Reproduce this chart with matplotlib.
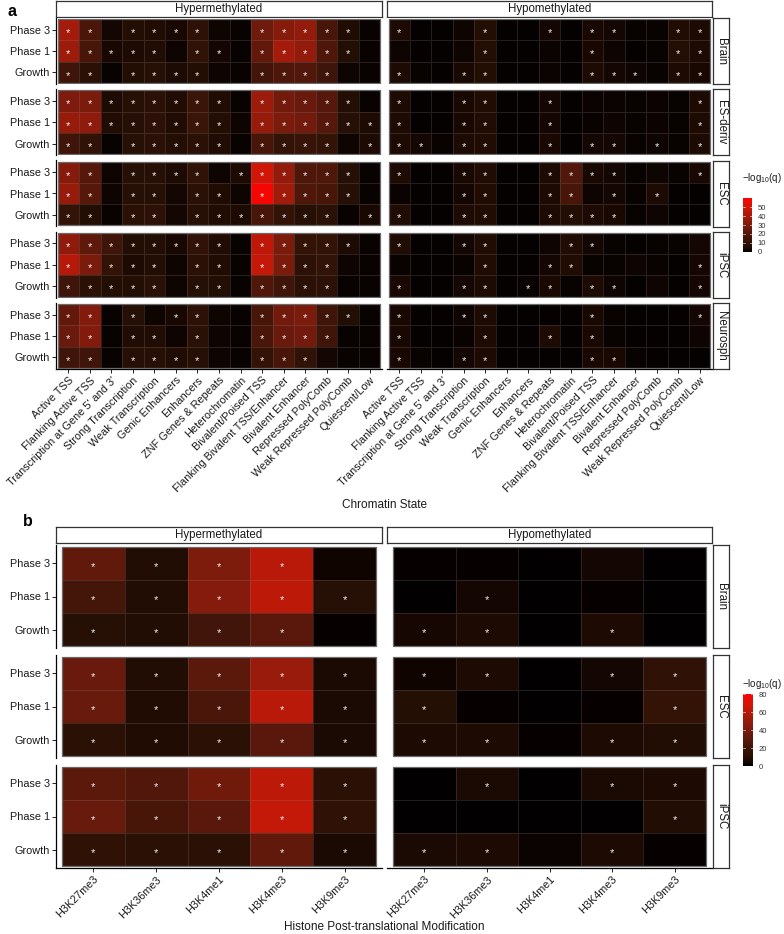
import numpy as np
import matplotlib
matplotlib.use('Agg')
import matplotlib.pyplot as plt
from matplotlib.colors import ListedColormap, Normalize
from matplotlib.patches import Rectangle

plt.rcParams['font.family'] = ['Liberation Sans', 'DejaVu Sans']
plt.rcParams['mathtext.fontset'] = 'custom'
plt.rcParams['mathtext.rm'] = 'Liberation Sans'
plt.rcParams['mathtext.it'] = 'Liberation Sans:italic'

# ---------------- data ----------------
phases = ["Phase 3", "Phase 1", "Growth"]
methyl = ["Hypermethylated", "Hypomethylated"]
tissues_a = ["Brain", "ES-deriv", "ESC", "iPSC", "Neurosph"]
tissues_b = ["Brain", "ESC", "iPSC"]
states = ["Active TSS", "Flanking Active TSS", "Transcription at Gene 5' and 3'",
          "Strong Transcription", "Weak Transcription", "Genic Enhancers", "Enhancers",
          "ZNF Genes & Repeats", "Heterochromatin", "Bivalent/Poised TSS",
          "Flanking Bivalent TSS/Enhancer", "Bivalent Enhancer", "Repressed PolyComb",
          "Weak Repressed PolyComb", "Quiescent/Low"]
histones = ["H3K27me3", "H3K36me3", "H3K4me1", "H3K4me3", "H3K9me3"]

# -log10(q), rows: Phase 3, Phase 1, Growth
hyper_a_brain = [[40, 18, 3, 7, 6, 4, 10, 2, 1, 27, 33, 36, 17, 6, 1],
                 [38, 17, 4, 5, 6, 2, 11, 3, 1, 24, 40, 36, 19, 7, 1],
                 [15, 9, 1, 7, 8, 5, 7, 2, 1, 16, 19, 20, 15, 2, 1]]
hyper_a_esderiv = [[31, 30, 5, 8, 9, 6, 14, 6, 1, 38, 28, 26, 21, 7, 1],
                   [37, 35, 6, 8, 10, 6, 14, 7, 2, 37, 30, 28, 21, 8, 5],
                   [15, 11, 1, 8, 9, 7, 9, 6, 1, 17, 12, 13, 12, 2, 5]]
hyper_a_esc = [[33, 21, 2, 8, 8, 5, 11, 2, 5, 50, 36, 19, 19, 8, 1],
               [37, 21, 2, 8, 8, 3, 9, 6, 2, 58, 39, 19, 17, 8, 1],
               [12, 7, 1, 9, 10, 3, 8, 6, 5, 17, 12, 8, 9, 1, 4]]
hyper_a_ipsc = [[35, 23, 15, 7, 7, 4, 11, 6, 1, 46, 30, 12, 12, 5, 1],
                [44, 30, 12, 5, 7, 2, 9, 6, 1, 47, 30, 10, 12, 2, 1],
                [15, 9, 7, 7, 9, 2, 8, 7, 1, 19, 15, 9, 10, 1, 1]]
hyper_a_neuro = [[24, 32, 1, 8, 2, 4, 10, 2, 1, 17, 28, 30, 15, 7, 1],
                 [26, 32, 1, 6, 6, 2, 9, 2, 1, 18, 26, 28, 15, 1, 1],
                 [15, 15, 1, 8, 8, 6, 8, 2, 1, 12, 17, 11, 3, 1, 1]]

hypo_a_brain = [[5, 0.5, 0.5, 2, 7, 0.5, 0.5, 3, 0.5, 4, 3, 1, 1, 6, 5],
                [2, 0.5, 0.5, 2, 7, 0.5, 0.5, 1.5, 0.5, 4, 2, 0.5, 1, 7, 5],
                [5, 1, 0.5, 4, 7, 0.5, 0.5, 1.5, 0.5, 5, 3, 2, 1, 5, 4]]
hypo_a_esderiv = [[5, 0.5, 0.5, 4, 6, 0.5, 0.5, 3, 0.5, 1.5, 1.5, 1, 1.5, 1, 5],
                  [5, 0.5, 0.5, 4, 6, 0.5, 0.5, 3, 0.5, 1, 2, 1, 1.5, 1, 5],
                  [5, 3, 1, 5, 6, 0.5, 0.5, 4, 0.5, 3, 3, 1, 2, 1, 5]]
hypo_a_esc = [[5, 0.5, 0.5, 4, 6, 0.5, 0.5, 5, 20, 4, 3, 1, 2, 1, 4],
              [1.5, 0.5, 0.5, 3, 6, 0.5, 0.5, 5, 17, 2, 3, 1, 5, 0.5, 0.5],
              [6, 0.5, 0.5, 5, 6, 0.5, 0.5, 5, 7, 5, 4, 1, 2, 0.5, 0.5]]
hypo_a_ipsc = [[6, 0.5, 0.5, 3, 6, 0.5, 0.5, 2, 6, 3, 1, 0.5, 1, 1, 3],
               [1, 0.5, 0.5, 1, 6, 0.5, 0.5, 3, 6, 1, 1, 2, 1, 0.5, 3],
               [4, 0.5, 0.5, 3, 5, 0.5, 1, 4, 1, 5, 2, 0.5, 2, 0.5, 3]]
hypo_a_neuro = [[4, 0.5, 0.5, 2, 5, 0.5, 0.5, 0.5, 0.5, 4, 1, 0.5, 0.5, 0.5, 3],
                [4, 0.5, 0.5, 1, 5, 0.5, 0.5, 5, 0.5, 4, 1, 0.5, 0.5, 0.5, 2],
                [4, 1, 0.5, 3, 5, 0.5, 0.5, 0.5, 0.5, 4, 4, 1, 0.5, 0.5, 0.5]]

# significance (1 = asterisk)
sig_hyper_a_brain = [[1, 1, 0, 1, 1, 1, 1, 0, 0, 1, 1, 1, 1, 1, 0],
                     [1, 1, 1, 1, 1, 0, 1, 1, 0, 1, 1, 1, 1, 1, 0],
                     [1, 1, 0, 1, 1, 1, 1, 0, 0, 1, 1, 1, 1, 0, 0]]
sig_hyper_a_esderiv = [[1, 1, 1, 1, 1, 1, 1, 1, 0, 1, 1, 1, 1, 1, 0],
                       [1, 1, 1, 1, 1, 1, 1, 1, 0, 1, 1, 1, 1, 1, 1],
                       [1, 1, 0, 1, 1, 1, 1, 1, 0, 1, 1, 1, 1, 0, 1]]
sig_hyper_a_esc = [[1, 1, 0, 1, 1, 1, 1, 0, 1, 1, 1, 1, 1, 1, 0],
                   [1, 1, 0, 1, 1, 0, 1, 1, 0, 1, 1, 1, 1, 1, 0],
                   [1, 1, 0, 1, 1, 0, 1, 1, 1, 1, 1, 1, 1, 0, 1]]
sig_hyper_a_ipsc = [[1, 1, 1, 1, 1, 1, 1, 1, 0, 1, 1, 1, 1, 1, 0],
                    [1, 1, 1, 1, 1, 0, 1, 1, 0, 1, 1, 1, 1, 0, 0],
                    [1, 1, 1, 1, 1, 0, 1, 1, 0, 1, 1, 1, 1, 0, 0]]
sig_hyper_a_neuro = [[1, 1, 0, 1, 0, 1, 1, 0, 0, 1, 1, 1, 1, 1, 0],
                     [1, 1, 0, 1, 1, 0, 1, 0, 0, 1, 1, 1, 1, 0, 0],
                     [1, 1, 0, 1, 1, 1, 1, 0, 0, 1, 1, 1, 0, 0, 0]]

sig_hypo_a_brain = [[1, 0, 0, 0, 1, 0, 0, 1, 0, 1, 1, 0, 0, 1, 1],
                    [0, 0, 0, 0, 1, 0, 0, 0, 0, 1, 0, 0, 0, 1, 1],
                    [1, 0, 0, 1, 1, 0, 0, 0, 0, 1, 1, 1, 0, 1, 1]]
sig_hypo_a_esderiv = [[1, 0, 0, 1, 1, 0, 0, 1, 0, 0, 0, 0, 0, 0, 1],
                      [1, 0, 0, 1, 1, 0, 0, 1, 0, 0, 0, 0, 0, 0, 1],
                      [1, 1, 0, 1, 1, 0, 0, 1, 0, 1, 1, 0, 1, 0, 1]]
sig_hypo_a_esc = [[1, 0, 0, 1, 1, 0, 0, 1, 1, 1, 1, 0, 0, 0, 1],
                  [0, 0, 0, 1, 1, 0, 0, 1, 1, 0, 1, 0, 1, 0, 0],
                  [1, 0, 0, 1, 1, 0, 0, 1, 1, 1, 1, 0, 0, 0, 0]]
sig_hypo_a_ipsc = [[1, 0, 0, 1, 1, 0, 0, 0, 1, 1, 0, 0, 0, 0, 0],
                   [0, 0, 0, 0, 1, 0, 0, 1, 1, 0, 0, 0, 0, 0, 1],
                   [1, 0, 0, 1, 1, 0, 1, 1, 0, 1, 1, 0, 0, 0, 1]]
sig_hypo_a_neuro = [[1, 0, 0, 1, 1, 0, 0, 0, 0, 1, 0, 0, 0, 0, 1],
                    [1, 0, 0, 0, 1, 0, 0, 1, 0, 1, 0, 0, 0, 0, 0],
                    [1, 0, 0, 1, 1, 0, 0, 0, 0, 1, 1, 0, 0, 0, 0]]

hyper_b_brain = [[32, 9, 41, 60, 3], [22, 9, 44, 61, 11], [11, 9, 21, 29, 1]]
hyper_b_esc = [[35, 9, 30, 50, 6], [34, 8, 24, 60, 6], [12, 8, 12, 29, 6]]
hyper_b_ipsc = [[30, 26, 37, 61, 12], [34, 23, 29, 63, 14], [14, 12, 12, 32, 6]]
hypo_b_brain = [[1, 1, 0.5, 4, 0.5], [0.5, 4, 0.5, 1, 0.5], [5, 7, 0.5, 7, 0.5]]
hypo_b_esc = [[3, 7, 0.5, 4, 14], [10, 1, 0.5, 1, 16], [7, 7, 1, 7, 9]]
hypo_b_ipsc = [[0.5, 6, 0.5, 6, 7], [0.5, 0.5, 0.5, 0.5, 9], [6, 7, 2, 7, 1]]

sig_hyper_b_brain = [[1, 1, 1, 1, 0], [1, 1, 1, 1, 1], [1, 1, 1, 1, 0]]
sig_hyper_b_esc = [[1, 1, 1, 1, 1], [1, 1, 1, 1, 1], [1, 1, 1, 1, 1]]
sig_hyper_b_ipsc = [[1, 1, 1, 1, 1], [1, 1, 1, 1, 1], [1, 1, 1, 1, 1]]
sig_hypo_b_brain = [[0, 0, 0, 0, 0], [0, 1, 0, 0, 0], [1, 1, 0, 1, 0]]
sig_hypo_b_esc = [[1, 1, 0, 1, 1], [1, 0, 0, 0, 1], [1, 1, 0, 1, 1]]
sig_hypo_b_ipsc = [[0, 1, 0, 1, 1], [0, 0, 0, 0, 1], [1, 1, 0, 1, 0]]

vmax_a = 60
vmax_b = 80.5
ticks_a = [0, 10, 20, 30, 40, 50]
ticks_b = [0, 20, 40, 60, 80]

# ---------------- colour map (black -> red, interpolated in CIELAB) ----------------
def lab_to_srgb(L, a, b):
    fy = (L + 16) / 116.0
    fx = fy + a / 500.0
    fz = fy - b / 200.0
    def finv(t):
        return np.where(t ** 3 > 0.008856, t ** 3, (t - 16 / 116.0) / 7.787)
    X = 0.95047 * finv(fx)
    Y = finv(fy)
    Z = 1.08883 * finv(fz)
    r = 3.2406 * X - 1.5372 * Y - 0.4986 * Z
    g = -0.9689 * X + 1.8758 * Y + 0.0415 * Z
    bb = 0.0557 * X - 0.2040 * Y + 1.0570 * Z
    rgb = np.stack([r, g, bb], axis=-1)
    rgb = np.clip(rgb, 0, 1)
    rgb = np.where(rgb <= 0.0031308, 12.92 * rgb, 1.055 * rgb ** (1 / 2.4) - 0.055)
    return np.clip(rgb, 0, 1)

t = np.linspace(0, 1, 256)
cmap = ListedColormap(lab_to_srgb(53.24 * t, 80.09 * t, 67.20 * t))

# ---------------- layout ----------------
W, H = 784, 934
fig = plt.figure(figsize=(W / 100, H / 100), dpi=100)

def add_ax(x0, y0, x1, y1):
    return fig.add_axes([x0 / W, 1 - y1 / H, (x1 - x0) / W, (y1 - y0) / H])

LBL = 7.8
STRIP_FS = 8.3
TXT = '#1a1a1a'

def strip(x0, y0, x1, y1, text, rot=0):
    ax = add_ax(x0, y0, x1, y1)
    ax.set_xticks([]); ax.set_yticks([])
    ax.set_facecolor('white')
    for s in ax.spines.values():
        s.set_color('#333333'); s.set_linewidth(0.9)
    ax.text(0.5, 0.5, text, ha='center', va='center', rotation=rot,
            fontsize=STRIP_FS, color=TXT, transform=ax.transAxes)

def panel(box, vals, sig, vmax, xpad, ypad, left, bottom, xlabels, star_fs):
    ax = add_ax(*box)
    v = np.array(vals, float)
    nr, nc = v.shape
    norm = Normalize(0, vmax)
    ax.pcolormesh(np.arange(nc + 1), np.arange(nr + 1), v, cmap=cmap, norm=norm,
                  edgecolors=(0.6, 0.55, 0.55, 0.22), linewidth=0.4)
    ax.add_patch(Rectangle((0, 0), nc, nr, fill=False, edgecolor='#6a6a6a', lw=0.9, zorder=3))
    s = np.array(sig)
    for i in range(nr):
        for j in range(nc):
            if s[i, j]:
                ax.annotate('*', (j + 0.5, i + 0.5), xytext=(0, -0.58 * star_fs),
                            textcoords='offset points', ha='center', va='baseline',
                            color='#f0f0f0', fontsize=star_fs, zorder=4)
    ax.set_xlim(-xpad, nc + xpad)
    ax.set_ylim(nr + ypad, -ypad)
    for sp in ax.spines.values():
        sp.set_visible(False)
    ax.set_yticks(np.arange(nr) + 0.5)
    ax.set_xticks(np.arange(nc) + 0.5)
    if left:
        ax.spines['left'].set_visible(True)
        ax.spines['left'].set_linewidth(0.9)
        ax.set_yticklabels(phases, fontsize=LBL, color=TXT)
        ax.tick_params(axis='y', length=3, width=0.6, pad=1.5)
    else:
        ax.tick_params(axis='y', left=False, labelleft=False)
    if bottom:
        ax.spines['bottom'].set_visible(True)
        ax.spines['bottom'].set_linewidth(0.9)
        ax.set_xticklabels(xlabels, fontsize=LBL, rotation=45, ha='right',
                           rotation_mode='anchor', color=TXT)
        ax.tick_params(axis='x', length=3, width=0.6, pad=1.5)
    else:
        ax.tick_params(axis='x', bottom=False, labelbottom=False)
    return ax

def colorbar(x0, y0, x1, y1, vmax, ticks, title_y):
    ax = add_ax(x0, y0, x1, y1)
    ax.imshow(np.linspace(0, vmax, 256)[:, None], aspect='auto', cmap=cmap,
              origin='lower', extent=[0, 1, 0, vmax], vmin=0, vmax=vmax)
    for tk in ticks:
        ax.plot([0, 0.22], [tk, tk], color='white', lw=0.5, alpha=0.8)
        ax.plot([0.78, 1], [tk, tk], color='white', lw=0.5, alpha=0.8)
    ax.set_xlim(0, 1); ax.set_ylim(0, vmax)
    ax.set_xticks([])
    ax.yaxis.tick_right()
    ax.set_yticks(ticks)
    ax.set_yticklabels([str(k) for k in ticks], fontsize=5.5, color='#333333')
    ax.tick_params(axis='y', length=0, pad=4)
    for sp in ax.spines.values():
        sp.set_visible(False)
    fig.text((x0 - 1.5) / W, 1 - title_y / H, r'$\mathregular{-log_{10}(q)}$', fontsize=7,
             ha='left', va='center', color=TXT)

# ---------- panel a ----------
hyper_a = [hyper_a_brain, hyper_a_esderiv, hyper_a_esc, hyper_a_ipsc, hyper_a_neuro]
hypo_a = [hypo_a_brain, hypo_a_esderiv, hypo_a_esc, hypo_a_ipsc, hypo_a_neuro]
sig_hyper_a = [sig_hyper_a_brain, sig_hyper_a_esderiv, sig_hyper_a_esc, sig_hyper_a_ipsc, sig_hyper_a_neuro]
sig_hypo_a = [sig_hypo_a_brain, sig_hypo_a_esderiv, sig_hypo_a_esc, sig_hypo_a_ipsc, sig_hypo_a_neuro]

colx = [(56, 382), (387, 712)]
strip(56, 1, 382, 17, methyl[0])
strip(387, 1, 712, 17, methyl[1])
top, h_a, g_a = 18, 66, 5.25
for r, tis in enumerate(tissues_a):
    y0 = top + r * (h_a + g_a)
    y1 = y0 + h_a
    last = r == len(tissues_a) - 1
    panel((colx[0][0], y0, colx[0][1], y1), hyper_a[r], sig_hyper_a[r], vmax_a,
          0.07, 0.05, True, last, states, 8)
    panel((colx[1][0], y0, colx[1][1], y1), hypo_a[r], sig_hypo_a[r], vmax_a,
          0.07, 0.05, False, last, states, 8)
    strip(713, y0, 729, y1, tis, rot=-90)

fig.text(384 / W, 1 - 505 / H, "Chromatin State", ha='center', va='center', fontsize=8.5, color=TXT)
colorbar(743, 198.4, 752, 251.7, vmax_a, ticks_a, 178)
fig.text(12 / W, 1 - 11 / H, "a", fontsize=11.5, fontweight='bold', ha='center', va='center')

# ---------- panel b ----------
hyper_b = [hyper_b_brain, hyper_b_esc, hyper_b_ipsc]
hypo_b = [hypo_b_brain, hypo_b_esc, hypo_b_ipsc]
sig_hyper_b = [sig_hyper_b_brain, sig_hyper_b_esc, sig_hyper_b_ipsc]
sig_hypo_b = [sig_hypo_b_brain, sig_hypo_b_esc, sig_hypo_b_ipsc]

strip(56, 527, 382, 543, methyl[0])
strip(387, 527, 712, 543, methyl[1])
top_b, h_b, g_b = 545, 103, 7
for r, tis in enumerate(tissues_b):
    y0 = top_b + r * (h_b + g_b)
    y1 = y0 + h_b
    last = r == len(tissues_b) - 1
    panel((colx[0][0], y0, colx[0][1], y1), hyper_b[r], sig_hyper_b[r], vmax_b,
          0.096, 0.06, True, last, histones, 8)
    panel((colx[1][0], y0, colx[1][1], y1), hypo_b[r], sig_hypo_b[r], vmax_b,
          0.096, 0.06, False, last, histones, 8)
    strip(713, y0, 729, y1, tis, rot=-90)

fig.text(384 / W, 1 - 927 / H, "Histone Post-translational Modification", ha='center', va='center',
         fontsize=8.5, color=TXT)
colorbar(743, 694, 753, 766.5, vmax_b, ticks_b, 684)
fig.text(28 / W, 1 - 521 / H, "b", fontsize=11.5, fontweight='bold', ha='center', va='center')

fig.savefig("out.png", dpi=100, facecolor='white')
